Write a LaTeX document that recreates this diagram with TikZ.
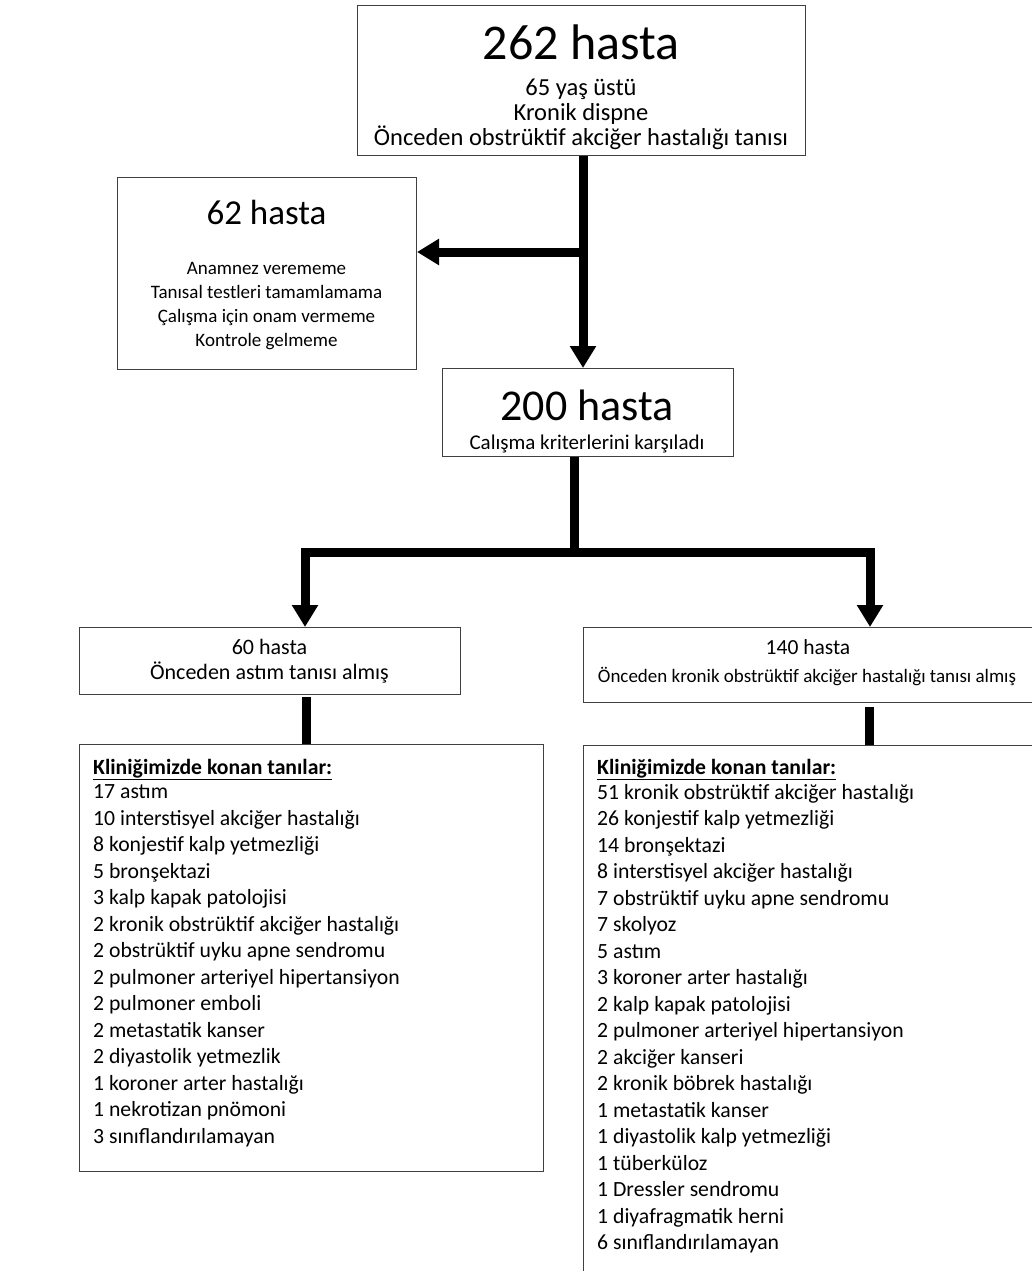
\documentclass[tikz,border=0pt]{standalone}
\usepackage{fontspec}
\setmainfont{Carlito}
\usetikzlibrary{arrows.meta}
\newcommand{\boyut}[2]{\fontsize{#1}{#2}\selectfont}
\tikzset{
  kutu/.style={draw=black!75, line width=1pt, anchor=north west, inner sep=0pt},
  yazi/.style={anchor=base, inner sep=0pt, align=center},
  liste/.style={anchor=base west, inner sep=0pt, font=\boyut{21.7}{26}},
  ok/.style={line width=9pt, -{Triangle[length=22pt,width=25pt]}},
  bag/.style={line width=9pt},
}
\begin{document}
\begin{tikzpicture}[x=1pt,y=-1pt]
\useasboundingbox (0,0) rectangle (1032,1271);

%Shape: Rectangle
\node[kutu, minimum width=448pt, minimum height=150pt] (ust) at (357,5) {};
%Shape: Rectangle
\node[kutu, minimum width=299pt, minimum height=192pt] (sol) at (117,177) {};
%Shape: Rectangle
\node[kutu, minimum width=291pt, minimum height=88pt] (orta) at (442,368) {};
%Shape: Rectangle
\node[kutu, minimum width=381pt, minimum height=67pt] (astim) at (79,627) {};
%Shape: Rectangle
\node[kutu, minimum width=460pt, minimum height=75pt] (koah) at (583,627) {};
%Shape: Rectangle
\node[kutu, minimum width=464pt, minimum height=427pt] (tanisol) at (79,744) {};
%Shape: Rectangle
\node[kutu, minimum width=460pt, minimum height=545pt] (tanisag) at (583,745) {};

%Straight Lines
\coordinate (d1) at (583,252);
\draw[ok] (ust.south -| d1) -- (orta.north -| d1);
\draw[ok] (d1) -- (sol.east |- d1);
%Straight Lines
\coordinate (d2) at (574,552);
\coordinate (d3) at (305,552);
\coordinate (d4) at (870,552);
\draw[bag] (orta.south -| d2) -- (d2);
\draw[ok] (d2) -- (d3) -- (astim.north -| d3);
\draw[ok] (d2) -- (d4) -- (koah.north -| d4);
%Straight Lines
\coordinate (d5) at (306,720);
\coordinate (d6) at (869,720);
\draw[bag] ([yshift=-2pt]astim.south -| d5) -- (tanisol.north -| d5);
\draw[bag] ([yshift=-4pt]koah.south -| d6) -- (tanisag.north -| d6);

% Text Node
\node[yazi, font=\boyut{50}{60}] (t262) at (581,60) {262 hasta};
\foreach \s [count=\i] in {65 yaş üstü, Kronik dispne, Önceden obstrüktif akciğer hastalığı tanısı}
  \node[yazi, font=\boyut{24.5}{25}] (ust\i) at (581,71+25*\i) {\s};
% Text Node
\node[yazi, font=\boyut{35}{42}] (t62) at (266.5,224) {62 hasta};
\foreach \s [count=\i] in {Anamnez verememe, Tanısal testleri tamamlamama, Çalışma için onam vermeme, Kontrole gelmeme}
  \node[yazi, font=\boyut{19}{24}] (sol\i) at (266.5,250+24*\i) {\s};
% Text Node
\node[yazi, font=\boyut{44}{52}] (t200) at (587,420) {200 hasta};
\node[yazi, font=\boyut{21}{24}] (orta1) at (587,449) {Calışma kriterlerini karşıladı};
% Text Node
\node[yazi, font=\boyut{22}{24}] (t60) at (269.5,654) {60 hasta};
\node[yazi, font=\boyut{22}{24}] (astim1) at (269.5,679) {Önceden astım tanısı almış};
% Text Node
\node[yazi, font=\boyut{21.5}{24}] (t140) at (808,654) {140 hasta};
\node[yazi, font=\boyut{19}{24}] (koah1) at (807,682) {Önceden kronik obstrüktif akciğer hastalığı tanısı almış};

% Text Node
\node[liste] (bsol) at (93,774) {\textbf{\underline{Kliniğimizde konan tanılar:}}};
\foreach \s [count=\i] in {17 astım, 10 interstisyel akciğer hastalığı, 8 konjestif kalp yetmezliği, 5 bronşektazi, 3 kalp kapak patolojisi, 2 kronik obstrüktif akciğer hastalığı, 2 obstrüktif uyku apne sendromu, 2 pulmoner arteriyel hipertansiyon, 2 pulmoner emboli, 2 metastatik kanser, 2 diyastolik yetmezlik, 1 koroner arter hastalığı, 1 nekrotizan pnömoni, 3 sınıflandırılamayan}
  \node[liste] (sol\i) at (93,772+26.5*\i) {\s};
% Text Node
\node[liste] (bsag) at (597,774) {\textbf{\underline{Kliniğimizde konan tanılar:}}};
\foreach \s [count=\i] in {51 kronik obstrüktif akciğer hastalığı, 26 konjestif kalp yetmezliği, 14 bronşektazi, 8 interstisyel akciğer hastalığı, 7 obstrüktif uyku apne sendromu, 7 skolyoz, 5 astım, 3 koroner arter hastalığı, 2 kalp kapak patolojisi, 2 pulmoner arteriyel hipertansiyon, 2 akciğer kanseri, 2 kronik böbrek hastalığı, 1 metastatik kanser, 1 diyastolik kalp yetmezliği, 1 tüberküloz, 1 Dressler sendromu, 1 diyafragmatik herni, 6 sınıflandırılamayan}
  \node[liste] (sag\i) at (597,772.5+26.5*\i) {\s};
\end{tikzpicture}
\end{document}
